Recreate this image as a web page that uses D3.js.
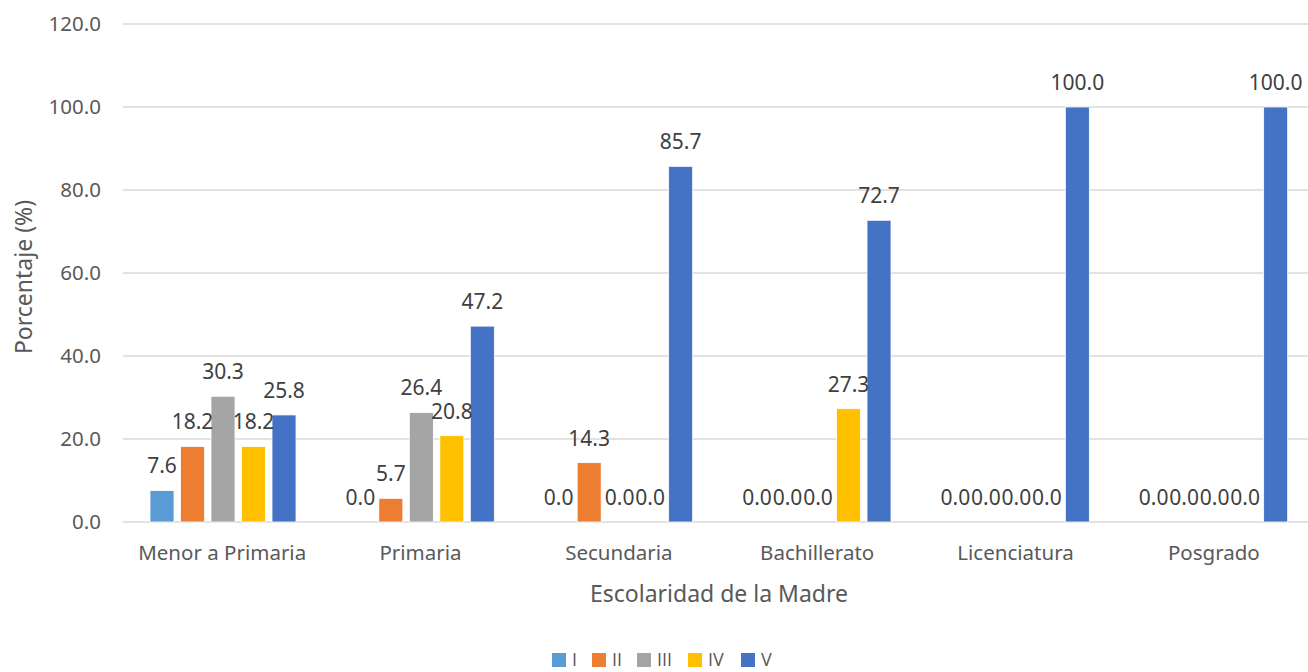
<!DOCTYPE html>
<html>
<head>
<meta charset="utf-8">
<script src="https://cdn.jsdelivr.net/npm/d3@7"></script>
<style>
html,body{margin:0;padding:0;background:#fff;}
svg{display:block;font-family:"Noto Sans","Open Sans",sans-serif;}
</style>
</head>
<body>
<svg id="chart" width="1308" height="672"></svg>
<script>
const categories = ["Menor a Primaria","Primaria","Secundaria","Bachillerato","Licenciatura","Posgrado"];
const seriesNames = ["I","II","III","IV","V"];
const seriesColors = ["#5B9BD5","#ED7D31","#A5A5A5","#FFC000","#4472C4"];
const valuesI   = [7.6, 0.0, 0.0, 0.0, 0.0, 0.0];
const valuesII  = [18.2, 5.7, 14.3, 0.0, 0.0, 0.0];
const valuesIII = [30.3, 26.4, 0.0, 0.0, 0.0, 0.0];
const valuesIV  = [18.2, 20.8, 0.0, 27.3, 0.0, 0.0];
const valuesV   = [25.8, 47.2, 85.7, 72.7, 100.0, 100.0];
const yTicks = [0, 20, 40, 60, 80, 100, 120];
const yTitle = "Porcentaje (%)";
const xTitle = "Escolaridad de la Madre";

const seriesValues = [valuesI, valuesII, valuesIII, valuesIV, valuesV];
const FONT = '"Noto Sans","Open Sans",sans-serif';

const svg = d3.select("#chart");
const plot = {left: 123, right: 1313, top: 24, bottom: 522};

const x0 = d3.scaleBand().domain(categories).range([plot.left, plot.right]).padding(0);
const x1 = d3.scaleBand().domain(seriesNames).range([27, 173]).paddingInner(0.213).paddingOuter(0);
const y = d3.scaleLinear().domain([0, 120]).range([plot.bottom, plot.top]);

// gridlines
svg.append("g").selectAll("line").data(yTicks).join("line")
  .attr("x1", plot.left).attr("x2", 1308)
  .attr("y1", d => y(d)).attr("y2", d => y(d))
  .attr("stroke", "#D9D9D9").attr("stroke-width", 1.3);

// y axis labels
const yAxis = d3.axisLeft(y).tickValues(yTicks).tickFormat(d3.format(".1f")).tickSize(0).tickPadding(0);
const yg = svg.append("g").attr("transform", `translate(${plot.left - 22},0)`).call(yAxis);
yg.select(".domain").remove();
yg.selectAll("text").attr("fill", "#595959").attr("font-size", 20.5).attr("font-family", FONT);

// x axis labels
const xAxis = d3.axisBottom(x0).tickSize(0).tickPadding(0);
const xg = svg.append("g").attr("transform", `translate(0,560)`).call(xAxis);
xg.select(".domain").remove();
xg.selectAll("text").attr("y", 0).attr("dy", null)
  .attr("fill", "#595959").attr("font-size", 20.5).attr("font-family", FONT);

// bars
const rows = [];
categories.forEach((c, ci) => {
  seriesNames.forEach((s, si) => {
    rows.push({cat: c, ser: s, si: si, v: seriesValues[si][ci]});
  });
});

svg.append("g").selectAll("rect").data(rows.filter(d => d.v > 0)).join("rect")
  .attr("x", d => x0(d.cat) + x1(d.ser))
  .attr("width", x1.bandwidth())
  .attr("y", d => y(d.v))
  .attr("height", d => y(0) - y(d.v))
  .attr("fill", d => seriesColors[d.si])
  .attr("stroke", "#fff").attr("stroke-width", 0.8);

// data labels
svg.append("g").selectAll("text").data(rows).join("text")
  .attr("x", d => x0(d.cat) + x1(d.ser) + x1.bandwidth() / 2)
  .attr("y", d => y(d.v) - 17)
  .attr("text-anchor", "middle")
  .attr("fill", "#404040")
  .attr("font-size", 21)
  .attr("font-family", FONT)
  .text(d => d.v.toFixed(1));

// axis titles
svg.append("text")
  .attr("transform", `translate(32,277) rotate(-90)`)
  .attr("text-anchor", "middle")
  .attr("fill", "#595959").attr("font-size", 23).attr("font-family", FONT)
  .text(yTitle);

svg.append("text")
  .attr("x", 719).attr("y", 602)
  .attr("text-anchor", "middle")
  .attr("fill", "#595959").attr("font-size", 23).attr("font-family", FONT)
  .text(xTitle);

// legend
const legendX = [552, 592, 637, 688, 741];
const lg = svg.append("g");
seriesNames.forEach((s, i) => {
  lg.append("rect").attr("x", legendX[i]).attr("y", 653).attr("width", 14).attr("height", 14).attr("fill", seriesColors[i]);
  lg.append("text").attr("x", legendX[i] + 20).attr("y", 666).attr("fill", "#595959")
    .attr("font-size", 18).attr("font-family", '"Open Sans","Noto Sans",sans-serif').text(s);
});
</script>
</body>
</html>
